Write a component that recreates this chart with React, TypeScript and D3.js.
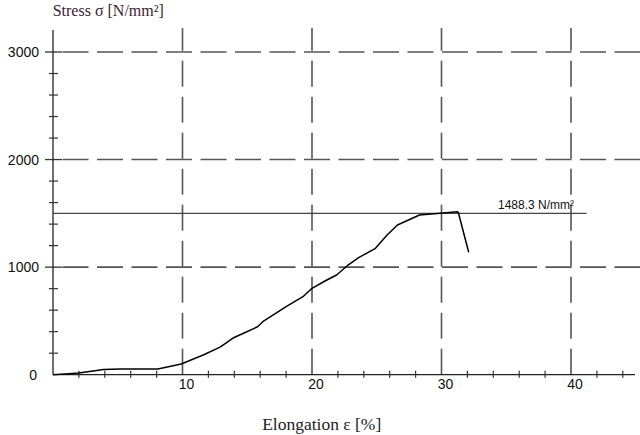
import React from 'react';
import * as d3 from 'd3';

// elongation [%] / stress [N/mm2]
const elongation = [0, 1.2, 2.0, 3.9, 5.2, 8.1, 9.9, 11.6, 12.9, 13.9, 14.8, 15.8, 16.2, 18.0, 19.3, 20.0, 21.0, 21.9, 22.7, 23.6, 24.9, 25.8, 26.6, 28.3, 29.9, 31.2, 31.3, 32.1];
const stress = [0, 10, 15, 48, 53, 53, 100, 183, 257, 341, 390, 446, 493, 632, 725, 803, 871, 927, 1011, 1088, 1175, 1299, 1392, 1485, 1501, 1516, 1508, 1138];

const xMajor = [10, 20, 30, 40];
const xMinor = d3.range(2, 45, 2);
const yMajor = [1000, 2000, 3000];
const yMinor = d3.range(200, 3000, 200);
const maxLine = 1500;
const maxLineEnd = 41.2;
const maxLabel = '1488.3 N/mm²';

const W = 640;
const H = 435;

export default function App() {
  const x = d3.scaleLinear().domain([0, 45]).range([53, 635.75]);
  const y = d3.scaleLinear().domain([0, 3000]).range([374.7, 52]);
  const top = 28;

  const points = elongation.map((e, i) => [e, stress[i]] as [number, number]);
  const line = d3
    .line<[number, number]>()
    .x((d) => x(d[0]))
    .y((d) => y(d[1]));

  const grid = '#555';
  const sans = 'Arial, "Liberation Sans", sans-serif';
  const serif = '"Times New Roman", "Liberation Serif", serif';

  return (
    <div style={{ position: 'fixed', left: 0, top: 0 }}>
      <svg width={W} height={H} style={{ display: 'block', background: '#fff' }}>
        {/* dashed grid */}
        {yMajor.map((v) => (
          <line
            key={'gy' + v}
            x1={x(0)}
            x2={W}
            y1={y(v)}
            y2={y(v)}
            stroke={grid}
            strokeWidth={1.6}
            strokeDasharray="26,8.5"
            strokeDashoffset={-9.5}
          />
        ))}
        {xMajor.map((v) => (
          <line
            key={'gx' + v}
            x1={x(v)}
            x2={x(v)}
            y1={y(0)}
            y2={top}
            stroke={grid}
            strokeWidth={1.6}
            strokeDasharray="26,10"
          />
        ))}

        {/* axes */}
        <line x1={x(0)} x2={x(0)} y1={y(0)} y2={top + 2} stroke="#222" strokeWidth={1.3} />
        <line x1={x(0)} x2={635} y1={y(0)} y2={y(0)} stroke="#222" strokeWidth={1.3} />
        {yMajor.map((v) => (
          <line key={'ty' + v} x1={45} x2={62} y1={y(v)} y2={y(v)} stroke="#333" strokeWidth={1.3} />
        ))}
        {yMinor
          .filter((v) => !yMajor.includes(v))
          .map((v) => (
            <line key={'my' + v} x1={49} x2={58} y1={y(v)} y2={y(v)} stroke="#333" strokeWidth={1.2} />
          ))}
        {xMinor
          .filter((v) => !xMajor.includes(v))
          .map((v) => (
            <line key={'mx' + v} x1={x(v)} x2={x(v)} y1={y(0) - 4} y2={y(0) + 3} stroke="#333" strokeWidth={1.2} />
          ))}

        {/* tick labels */}
        {yMajor.map((v) => (
          <text key={'ly' + v} x={39} y={y(v) + 5} textAnchor="end" fontFamily={sans} fontSize={14} fill="#111">
            {v}
          </text>
        ))}
        <text x={37} y={y(0) + 5} textAnchor="end" fontFamily={sans} fontSize={14} fill="#111">
          0
        </text>
        {xMajor.map((v) => (
          <text key={'lx' + v} x={x(v) + 4} y={389} textAnchor="middle" fontFamily={sans} fontSize={14} fill="#111">
            {v}
          </text>
        ))}

        {/* max stress line */}
        <line x1={x(0)} x2={x(maxLineEnd)} y1={y(maxLine)} y2={y(maxLine)} stroke="#444" strokeWidth={1.3} />
        <text x={574} y={208.5} textAnchor="end" fontFamily={sans} fontSize={12} fill="#111">
          {maxLabel}
        </text>

        {/* curve */}
        <path d={line(points) || ''} fill="none" stroke="#000" strokeWidth={1.5} strokeLinejoin="round" />

        {/* axis titles */}
        <text x={52.7} y={15.7} fontFamily={serif} fontSize={16} fill="#3a2434">
          Stress σ [N/mm²]
        </text>
        <text x={321.7} y={430} textAnchor="middle" fontFamily={serif} fontSize={17.5} fill="#222">
          Elongation ε [%]
        </text>
      </svg>
    </div>
  );
}
